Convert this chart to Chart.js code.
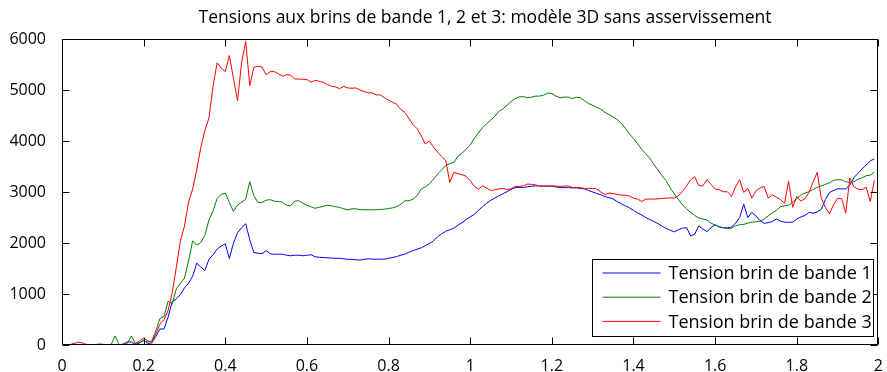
<!DOCTYPE html>
<html>
<head>
<meta charset="utf-8">
<script src="https://cdn.jsdelivr.net/npm/chart.js@4.4.1/dist/chart.umd.min.js"></script>
<style>
  html, body { margin: 0; padding: 0; background: #fff; }
  #wrap { width: 887px; height: 372px; }
</style>
</head>
<body>
<div id="wrap"><canvas id="c" width="887" height="372"></canvas></div>
<script>
// Belt-strand tensions, 3D model without control, sampled every 0.01 s
const chartTitle = 'Tensions aux brins de bande 1, 2 et 3: modèle 3D sans asservissement';
const seriesNames = ['Tension brin de bande 1', 'Tension brin de bande 2', 'Tension brin de bande 3'];
const seriesColors = ['#0000ff', '#008000', '#ff0000'];
const STEP = 0.01;

const tension1 = [
  0,0,0,0,0,0,0,0,0,0,
  0,0,0,0,0,20,60,60,10,40,
  100,30,40,170,314,314,550,850,900,990,
  1120,1211,1350,1604,1530,1460,1682,1768,1880,1940,
  1984,1695,1997,2200,2300,2377,2063,1813,1800,1790,
  1850,1790,1780,1780,1780,1760,1750,1760,1760,1750,
  1760,1770,1730,1720,1715,1710,1705,1700,1700,1690,
  1680,1680,1670,1665,1680,1690,1683,1683,1683,1683,
  1700,1715,1735,1760,1780,1820,1850,1880,1905,1950,
  1990,2040,2120,2180,2230,2260,2290,2350,2400,2460,
  2514,2560,2640,2710,2780,2835,2880,2925,2965,3005,
  3050,3085,3090,3090,3100,3115,3120,3120,3120,3115,
  3110,3100,3085,3085,3085,3080,3080,3070,3060,3030,
  3000,2970,2945,2910,2890,2865,2810,2770,2730,2690,
  2640,2590,2550,2500,2460,2420,2380,2330,2285,2250,
  2219,2260,2290,2300,2141,2174,2337,2272,2225,2300,
  2360,2310,2300,2300,2310,2390,2500,2763,2500,2600,
  2530,2440,2383,2400,2420,2470,2430,2410,2405,2410,
  2470,2510,2540,2600,2585,2610,2660,2850,2990,3030,
  3065,3060,3060,3140,3280,3370,3450,3530,3610,3650
];

const tension2 = [
  0,0,0,0,0,0,0,0,0,0,
  0,0,0,177,10,0,30,177,30,50,
  80,60,80,280,520,560,860,800,1100,1210,
  1310,1650,2043,1958,2010,2150,2450,2630,2874,2950,
  2979,2795,2618,2743,2800,2860,3201,2926,2795,2795,
  2840,2850,2820,2815,2800,2740,2730,2820,2830,2780,
  2740,2710,2680,2700,2720,2740,2730,2710,2700,2670,
  2650,2670,2670,2655,2651,2651,2651,2651,2655,2665,
  2675,2690,2715,2760,2828,2828,2860,2930,3060,3100,
  3160,3250,3350,3430,3520,3560,3580,3700,3760,3840,
  3920,4050,4160,4260,4340,4410,4480,4580,4630,4700,
  4770,4830,4866,4870,4850,4860,4880,4880,4900,4940,
  4930,4880,4850,4860,4860,4830,4858,4850,4790,4735,
  4700,4660,4625,4560,4520,4470,4420,4350,4250,4140,
  4050,3950,3840,3750,3660,3540,3430,3320,3220,3080,
  2960,2850,2750,2670,2600,2540,2490,2470,2450,2390,
  2350,2320,2300,2285,2290,2340,2357,2365,2390,2410,
  2415,2430,2470,2530,2590,2640,2710,2730,2740,2800,
  2870,2940,2980,3005,3050,3090,3120,3150,3180,3230,
  3240,3240,3200,3190,3200,3250,3280,3320,3330,3390
];

const tension3 = [
  0,0,10,30,55,40,10,0,0,20,
  15,0,0,0,0,0,0,10,30,80,
  135,80,60,220,410,500,680,1020,1520,2040,
  2330,2800,3060,3430,3870,4210,4450,5070,5532,5430,
  5362,5676,5230,4792,5540,5951,5087,5447,5466,5450,
  5300,5360,5360,5320,5270,5300,5290,5218,5215,5210,
  5205,5152,5192,5170,5150,5110,5074,5060,5028,5070,
  5040,5035,5040,5000,4970,4943,4943,4904,4904,4850,
  4800,4760,4720,4620,4560,4440,4320,4240,4100,3941,
  4000,3880,3780,3700,3620,3188,3385,3360,3340,3310,
  3221,3110,3057,3120,3080,3030,3044,3060,3070,3050,
  3060,3110,3110,3120,3156,3150,3140,3115,3110,3120,
  3120,3115,3110,3115,3120,3090,3090,3085,3071,3071,
  3071,3060,3000,2950,2979,2970,2950,2939,2939,2920,
  2880,2860,2815,2861,2861,2861,2865,2874,2880,2885,
  2880,2930,3010,3120,3240,3300,3123,3123,3241,3150,
  3057,3044,3005,3005,2913,3100,3241,2992,3071,2880,
  3024,3080,3110,2880,2946,2900,2850,2780,3208,2700,
  2913,2820,2870,2990,3200,3385,2880,2700,2570,2750,
  2880,2867,2586,3274,3100,3057,3044,3097,2815,3228
];

const xTicks = [0, 0.2, 0.4, 0.6, 0.8, 1, 1.2, 1.4, 1.6, 1.8, 2];
const yTicks = [0, 1000, 2000, 3000, 4000, 5000, 6000];

const FONT = "'Open Sans', 'DejaVu Sans', sans-serif";
const time = tension1.map((_, i) => +(i * STEP).toFixed(2));
const toPoints = vals => vals.map((v, i) => ({ x: time[i], y: v }));

// Title, box around the plot, inward ticks on all four sides, boxed legend
const framePlugin = {
  id: 'frame',
  afterDraw(chart) {
    const { ctx, chartArea: a, scales: { x, y } } = chart;
    const L = Math.round(a.left) + 0.5, R = Math.round(a.right) - 0.5;
    const T = Math.round(a.top) + 0.5, B = Math.round(a.bottom) - 0.5;
    const len = 7;
    ctx.save();

    ctx.fillStyle = '#000';
    ctx.font = `17.5px ${FONT}`;
    ctx.textAlign = 'center';
    ctx.textBaseline = 'middle';
    ctx.fillText(chartTitle, 485, 18);

    ctx.strokeStyle = '#000';
    ctx.lineWidth = 1;
    ctx.beginPath();
    x.ticks.forEach(t => {
      const px = Math.round(x.getPixelForValue(t.value)) + 0.5;
      ctx.moveTo(px, B); ctx.lineTo(px, B - len);
      ctx.moveTo(px, T); ctx.lineTo(px, T + len);
    });
    y.ticks.forEach(t => {
      const py = Math.round(y.getPixelForValue(t.value)) + 0.5;
      ctx.moveTo(L, py); ctx.lineTo(L + len, py);
      ctx.moveTo(R, py); ctx.lineTo(R - len, py);
    });
    ctx.stroke();
    ctx.strokeRect(L, T, R - L, B - T);

    // legend box in the lower-right corner of the plot
    const box = { left: 592.5, top: 259.5, width: 281, height: 77 };
    ctx.fillStyle = '#fff';
    ctx.fillRect(box.left, box.top, box.width, box.height);
    ctx.strokeRect(box.left, box.top, box.width, box.height);
    ctx.font = `18px ${FONT}`;
    ctx.textBaseline = 'middle';
    ctx.textAlign = 'left';
    chart.data.datasets.forEach((ds, i) => {
      const rowY = box.top + 13.5 + i * 24.2;
      ctx.strokeStyle = ds.borderColor;
      ctx.beginPath();
      ctx.moveTo(box.left + 10, rowY);
      ctx.lineTo(box.left + 68, rowY);
      ctx.stroke();
      ctx.fillStyle = '#000';
      ctx.fillText(ds.label, box.left + 76, rowY + 1);
    });
    ctx.restore();
  }
};

new Chart(document.getElementById('c'), {
  type: 'line',
  data: {
    datasets: [tension1, tension2, tension3].map((vals, i) => ({
      label: seriesNames[i],
      data: toPoints(vals),
      borderColor: seriesColors[i],
      borderWidth: 1,
      pointRadius: 0,
      tension: 0,
      fill: false,
      order: 2 - i
    }))
  },
  options: {
    responsive: false,
    animation: false,
    devicePixelRatio: 1,
    layout: { padding: { left: 0, right: 6, top: 39, bottom: 0 } },
    plugins: {
      legend: { display: false },
      tooltip: { enabled: false },
      title: { display: false }
    },
    scales: {
      x: {
        type: 'linear',
        min: 0, max: 2,
        afterBuildTicks: s => { s.ticks = xTicks.map(v => ({ value: v })); },
        afterFit: s => { s.height = 27; },
        ticks: {
          callback: v => String(v),
          color: '#000',
          font: { family: FONT, size: 16 },
          padding: 4,
          maxRotation: 0,
          autoSkip: false
        },
        grid: { display: false },
        border: { display: false }
      },
      y: {
        type: 'linear',
        min: 0, max: 6000,
        afterBuildTicks: s => { s.ticks = yTicks.map(v => ({ value: v })); },
        afterFit: s => { s.width = 62; },
        ticks: {
          callback: v => String(v),
          color: '#000',
          font: { family: FONT, size: 16 },
          padding: 8,
          autoSkip: false
        },
        grid: { display: false },
        border: { display: false }
      }
    }
  },
  plugins: [framePlugin]
});
</script>
</body>
</html>
